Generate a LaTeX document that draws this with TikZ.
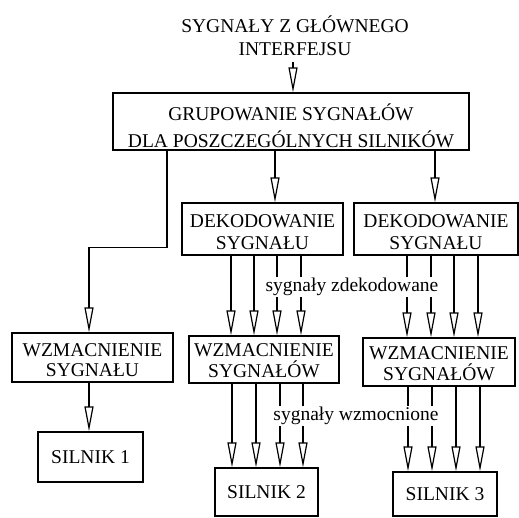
\documentclass[tikz,border=0pt]{standalone}
\usepackage{fontspec}
\setmainfont{Liberation Serif}
\usetikzlibrary{arrows.meta}
\begin{document}
\begin{tikzpicture}[
        x=1pt, y=-1pt,
        font=\fontsize{19.5}{21.5}\selectfont,
        box/.style={rectangle, draw, line width=1.3pt, align=center, inner sep=0pt},
        arrow/.style={-{Triangle[open, length=25pt, width=9pt]}, line width=1.2pt},
        siglabel/.style={fill=white, inner sep=1.5pt}
    ]
        \useasboundingbox (0,0) rectangle (519,517);

        % Input
        \node[align=center, inner sep=0pt] (input) at (295,36) {SYGNAŁY Z GŁÓWNEGO\\[1.5pt]INTERFEJSU};

        % Grouping
        \node[box, minimum width=356, minimum height=57, text height=52pt] (group) at (291,121.5) {GRUPOWANIE SYGNAŁÓW\\[5pt]DLA POSZCZEGÓLNYCH SILNIKÓW};

        % Decoding
        \node[box, minimum width=161, minimum height=52, text height=42pt] (dek1) at (262.5,229) {DEKODOWANIE\\[0.5pt]SYGNAŁU};
        \node[box, minimum width=164, minimum height=52, text height=42pt] (dek2) at (436,229) {DEKODOWANIE\\[0.5pt]SYGNAŁU};

        % Amplifiers
        \node[box, minimum width=161, minimum height=49, text height=39pt] (wzm1) at (92.5,357.5) {WZMACNIENIE\\[-1.5pt]SYGNAŁU};
        \node[box, minimum width=150, minimum height=47, text height=35.5pt] (wzm2) at (264,359.5) {WZMACNIENIE\\[-1pt]SYGNAŁÓW};
        \node[box, minimum width=152, minimum height=48, text height=36.5pt] (wzm3) at (439,362) {WZMACNIENIE\\[-1pt]SYGNAŁÓW};

        % Motors
        \node[box, minimum width=105, minimum height=50] (sil1) at (90.5,457) {SILNIK 1};
        \node[box, minimum width=103, minimum height=48] (sil2) at (266.5,492) {SILNIK 2};
        \node[box, minimum width=104, minimum height=44] (sil3) at (445,494) {SILNIK 3};

        % Arrows
        \draw[arrow] ([xshift=-2pt, yshift=-6pt]input.south) -- ([xshift=-2pt]input.south |- group.north);
        \draw[arrow] ([xshift=-16pt]group.south) -- ([xshift=-16pt]group.south |- dek1.north);
        \draw[arrow] ([xshift=144pt]group.south) -- ([xshift=144pt]group.south |- dek2.north);
        \draw[arrow] ([xshift=-124pt]group.south) -- ++(0,97) -| ([xshift=-3.5pt]wzm1.north);
        \draw[arrow] ([xshift=-3.5pt]wzm1.south) -- ([xshift=-3.5pt]wzm1.south |- sil1.north);

        \foreach \dx in {-31.5,-8.5,14.5,38.5}
            \draw[arrow] ([xshift=\dx pt]dek1.south) -- ([xshift=\dx pt]dek1.south |- wzm2.north);
        \foreach \dx in {-29,-5,18,42}
            \draw[arrow] ([xshift=\dx pt]dek2.south) -- ([xshift=\dx pt]dek2.south |- wzm3.north);
        \foreach \dx in {-32,-8,16,39}
            \draw[arrow] ([xshift=\dx pt]wzm2.south) -- ([xshift=\dx pt]wzm2.south |- sil2.north);
        \foreach \dx in {-31,-7,17,41}
            \draw[arrow] ([xshift=\dx pt]wzm3.south) -- ([xshift=\dx pt]wzm3.south |- sil3.north);

        % Labels
        \node[siglabel] (decoded) at (352,287) {sygnały zdekodowane};
        \node[siglabel] (amplified) at (356,416) {sygnały wzmocnione};

    \end{tikzpicture}
\end{document}
